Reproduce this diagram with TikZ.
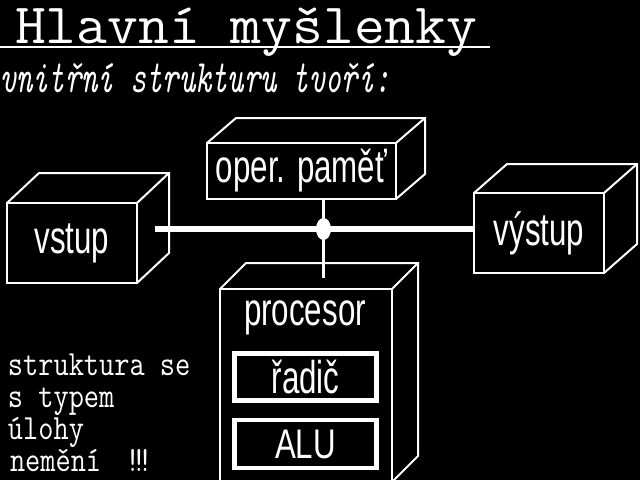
\documentclass[tikz,border=0pt]{standalone}
\usepackage{fontspec}
\newfontfamily\lab{Liberation Sans}
\usetikzlibrary{calc}
\newcommand\cubeback[3]{%
  \draw[edge] (#1.north west) -- ++(#2,-#3) -| ($(#1.south east)+(#2,-#3)$) -- (#1.south east);
  \draw[edge] (#1.north east) -- ++(#2,-#3);}
\begin{document}
\begin{tikzpicture}[x=1pt,y=-1pt,
  every node/.style={text=white,inner sep=0pt,outer sep=0pt},
  front/.style={draw=white,line width=2.6pt,rectangle},
  edge/.style={draw=white,line width=2pt},
  inner/.style={draw=white,line width=4.5pt,rectangle,minimum width=142pt},
  bus/.style={draw=white,line width=6pt},
  vline/.style={draw=white,line width=3pt},
  txt/.style={font=\ttfamily\fontsize{29.5}{30}\selectfont,anchor=base west}]
\fill[black] (0,0) rectangle (640,480);
\useasboundingbox (0,0) rectangle (640,480);
\clip (0,0) rectangle (640,480);

% title
\node[anchor=base west,font=\ttfamily\fontsize{57}{57}\selectfont] (title) at (15,43) {\scalebox{1.05}[1]{Hlavní myšlenky}};
\coordinate (ul0) at (0,47);
\coordinate (ul1) at (490,47);
\draw[white,line width=2.2pt] (ul0) -- (ul1);
\node[anchor=base west,font=\ttfamily\itshape\fontsize{31}{31}\selectfont] (sub) at (0,92) {\scalebox{1}[1.5]{vnitřní strukturu tvoří:}};

% boxes
\node[front,minimum width=130pt,minimum height=80pt] (vs) at (72,243) {\lab\scalebox{0.68}[1]{\fontsize{46}{46}\selectfont vstup}};
\cubeback{vs}{32}{30}
\node[front,minimum width=189pt,minimum height=56pt] (op) at (301.5,171) {\lab\scalebox{0.68}[1]{\fontsize{46}{46}\selectfont oper. paměť}};
\cubeback{op}{29}{25}
\node[front,minimum width=130pt,minimum height=80pt] (vy) at (539,233) {\lab\scalebox{0.68}[1]{\fontsize{46}{46}\selectfont výstup}};
\cubeback{vy}{33}{29}
\node[front,minimum width=172pt,minimum height=193pt] (pr) at (306,385.5) {};
\cubeback{pr}{26}{26}
\node (prl) at (305,318) {\lab\scalebox{0.68}[1]{\fontsize{46}{46}\selectfont procesor}};
\node[inner,minimum height=47pt] (ra) at (305.5,377) {\lab\scalebox{0.68}[1]{\fontsize{46}{46}\selectfont řadič}};
\node[inner,minimum height=48pt] (alu) at (305.5,444) {\lab\scalebox{0.68}[0.9]{\fontsize{46}{46}\selectfont ALU}};

% connectors
\coordinate (a) at (155,229);
\coordinate (j) at (323.5,229);
\coordinate (t) at (323.5,278);
\draw[bus] (a) -- (a -| vy.west);
\draw[vline] (j |- op.south) -- (t);
\fill[white] (j) ellipse (7.5 and 11);

% left text
\node[txt] (l1) at (8,375) {\scalebox{1}[1.2]{struktura se}};
\node[txt] (l2) at (8,407) {\scalebox{1}[1.2]{s typem}};
\node[txt] (l3) at (8,439) {\scalebox{1}[1.2]{úlohy}};
\node[txt] (l4) at (10,471) {\scalebox{1}[1.2]{nemění\hspace{24pt}!\kern-9pt!\kern-9pt!}};
\end{tikzpicture}
\end{document}
